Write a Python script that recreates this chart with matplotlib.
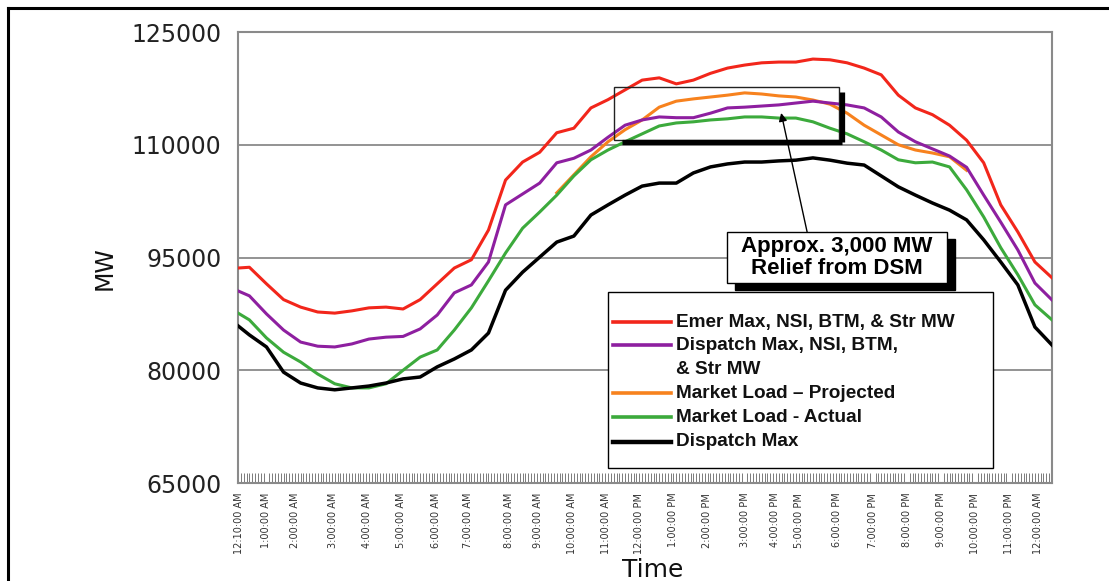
import numpy as np
import matplotlib.pyplot as plt
from matplotlib.lines import Line2D
from matplotlib.patches import Rectangle

# readings every half hour, x = hours after midnight
hours = [0.17, 0.5, 1.0, 1.5, 2.0, 2.5, 3.0, 3.5, 4.0, 4.5, 5.0, 5.5, 6.0, 6.5, 7.0, 7.5,
         8.0, 8.5, 9.0, 9.5, 10.0, 10.5, 11.0, 11.5, 12.0, 12.5, 13.0, 13.5, 14.0, 14.5,
         15.0, 15.5, 16.0, 16.5, 17.0, 17.5, 18.0, 18.5, 19.0, 19.5, 20.0, 20.5, 21.0,
         21.5, 22.0, 22.5, 23.0, 23.5, 24.0]

emer_max = [93600, 93700, 91500, 89400, 88400, 87750, 87600, 87900, 88300, 88400, 88150, 89400,
            91500, 93600, 94700, 98650, 105300, 107700, 109000, 111600, 112200, 114900, 116000,
            117300, 118600, 118900, 118100, 118600, 119500, 120200, 120600, 120900, 121000,
            121000, 121400, 121300, 120900, 120200, 119300, 116600, 114900, 114000, 112600,
            110600, 107600, 102000, 98400, 94400, 92300]
disp_nsi = [90550, 89900, 87500, 85350, 83750, 83200, 83100, 83500, 84150, 84400, 84500, 85500,
            87350, 90300, 91350, 94400, 102000, 103450, 104900, 107600, 108200, 109300, 111000,
            112600, 113300, 113700, 113600, 113600, 114200, 114900, 115000, 115150, 115300,
            115550, 115800, 115550, 115300, 114900, 113700, 111700, 110400, 109450, 108500,
            107000, 103300, 99700, 96000, 91600, 89350]
load_actual = [87600, 86700, 84300, 82400, 81100, 79500, 78200, 77650, 77650, 78200, 80000, 81750,
               82700, 85350, 88300, 91900, 95600, 98900, 101050, 103300, 105850, 108000, 109300,
               110400, 111450, 112500, 112900, 113050, 113300, 113450, 113700, 113700, 113550,
               113550, 113050, 112200, 111450, 110400, 109300, 108000, 107600, 107700, 107050,
               104000, 100400, 96300, 92700, 88700, 86700]
disp_max = [85900, 84700, 83100, 79750, 78300, 77650, 77400, 77650, 77900, 78300, 78850, 79100,
            80450, 81500, 82700, 84950, 90650, 93050, 95050, 97050, 97850, 100650, 102000,
            103300, 104500, 104900, 104900, 106250, 107050, 107450, 107700, 107700, 107850,
            107950, 108250, 107950, 107550, 107300, 105850, 104400, 103300, 102250, 101300,
            100000, 97350, 94400, 91350, 85750, 83350]

# projected load only separates from actual load during the day
proj_hours = [9.5, 10.0, 10.5, 11.0, 11.5, 12.0, 12.5, 13.0, 13.5, 14.0, 14.5, 15.0, 15.5,
              16.0, 16.5, 17.0, 17.5, 18.0, 18.5, 19.0, 19.5, 20.0, 20.5, 21.0, 21.5]
load_proj = [103600, 106000, 108400, 110400, 112000, 113300, 115000, 115800, 116100, 116350,
             116600, 116900, 116750, 116500, 116350, 115950, 115400, 114200, 112600, 111300,
             110000, 109300, 108900, 108400, 106600]

time_labels = ['12:10:00 AM', '1:00:00 AM', '2:00:00 AM', '3:00:00 AM', '4:00:00 AM',
               '5:00:00 AM', '6:00:00 AM', '7:00:00 AM', '8:00:00 AM', '9:00:00 AM',
               '10:00:00 AM', '11:00:00 AM', '12:00:00 PM', '1:00:00 PM', '2:00:00 PM',
               '3:00:00 PM', '4:00:00 PM', '5:00:00 PM', '6:00:00 PM', '7:00:00 PM',
               '8:00:00 PM', '9:00:00 PM', '10:00:00 PM', '11:00:00 PM', '12:00:00 AM']
label_pos = [0.2, 1.0, 1.85, 2.95, 3.95, 4.95, 5.95, 6.9, 8.1, 8.95, 9.95, 10.95, 11.9, 12.9,
             13.9, 15.0, 15.9, 16.6, 17.7, 18.75, 19.75, 20.75, 21.75, 22.75, 23.6]
y_ticks = [65000, 80000, 95000, 110000, 125000]

legend_labels = ['Emer Max, NSI, BTM, & Str MW', 'Dispatch Max, NSI, BTM,\n& Str MW',
                 'Market Load \u2013 Projected', 'Market Load - Actual', 'Dispatch Max']

RED = '#f2261b'
PURPLE = '#8e1fa0'
ORANGE = '#f7821e'
GREEN = '#3caa3c'
BLACK = '#000000'
legend_colors = [RED, PURPLE, ORANGE, GREEN, BLACK]

W, H = 1109, 581
def fx(x):
    return x / W
def fy(y):
    return 1 - y / H

fig = plt.figure(figsize=(W / 100, H / 100), dpi=100)
ax = fig.add_axes([fx(238), fy(483), fx(1052) - fx(238), (483 - 32) / H])

ax.plot(proj_hours, load_proj, color=ORANGE, lw=2.2, zorder=2)
ax.plot(hours, load_actual, color=GREEN, lw=2.2, zorder=3)
ax.plot(hours, disp_nsi, color=PURPLE, lw=2.2, zorder=4)
ax.plot(hours, emer_max, color=RED, lw=2.2, zorder=4)
ax.plot(hours, disp_max, color=BLACK, lw=2.5, zorder=4)

ax.set_xlim(0.167, 24.0)
ax.set_ylim(65000, 125000)
ax.set_yticks(y_ticks)
ax.set_yticklabels([str(v) for v in y_ticks], fontsize=17, color='#222222')
ax.tick_params(axis='y', length=0, pad=12)
ax.yaxis.grid(True, color='#8a8a8a', lw=1.3)
ax.set_axisbelow(True)

ax.set_xticks(label_pos)
ax.set_xticklabels(time_labels, rotation=90, fontsize=7.0, color='#333333')
ax.tick_params(axis='x', which='major', length=0, pad=7)
ax.set_xticks(np.arange(0.1667, 24.01, 1 / 12), minor=True)
ax.tick_params(axis='x', which='minor', direction='in', length=7, width=0.6, color='#666666')
for s in ax.spines.values():
    s.set_color('#8a8a8a')
    s.set_linewidth(1.5)

# box around the peak with heavy shadow on right and bottom
ax.add_patch(Rectangle((11.19, 110640), 17.77 - 11.19, 117700 - 110640, fill=False,
                       ec='#222222', lw=1, zorder=6))
ax.plot([11.4, 17.84], [110300, 110300], color='black', lw=3.8, solid_capstyle='butt', zorder=6)
ax.plot([17.84, 17.84], [117000, 110300], color='black', lw=3.8, solid_capstyle='butt', zorder=6)

# callout
ax.add_patch(Rectangle((14.72, 90690), 6.43, 6780, fc='black', ec='black', lw=1, zorder=7))
ax.add_patch(Rectangle((14.49, 91620), 6.43, 6780, fc='white', ec='black', lw=1, zorder=8))
ax.text(17.71, 95000, 'Approx. 3,000 MW\nRelief from DSM', ha='center', va='center',
        fontsize=16, fontweight='bold', family='Liberation Sans', linespacing=1.05, zorder=9)
ax.annotate('', xy=(16.07, 114230), xytext=(16.83, 98400),
            arrowprops=dict(arrowstyle='-|>', color='black', lw=1, mutation_scale=12,
                            shrinkA=0, shrinkB=0), zorder=9)

# legend drawn by hand so the box matches the original
fig.add_artist(Rectangle((fx(608), fy(468)), fx(993) - fx(608), (468 - 292) / H,
                         transform=fig.transFigure, fc='white', ec='black', lw=1, zorder=10))
row_y = [322, 345, 393, 417, 442]
for lab, col, y in zip(legend_labels, legend_colors, row_y):
    fig.add_artist(Line2D([fx(613), fx(671)], [fy(y), fy(y)], color=col,
                          lw=3.2 if col == BLACK else 2.6, transform=fig.transFigure, zorder=11))
    for i, line in enumerate(lab.split('\n')):
        fig.text(fx(676), fy(y + 24 * i), line, ha='left', va='center', fontsize=13.7,
                 fontweight='bold', family='Liberation Sans', color='#111111', zorder=11)

fig.text(fx(653), fy(570), 'Time', ha='center', va='center', fontsize=18, color='#111111')
fig.text(fx(105), fy(268), 'MW', ha='center', va='center', rotation=90, fontsize=17,
         color='#111111')

# page frame
fig.add_artist(Line2D([fx(8), fx(8)], [fy(8), 0], color='black', lw=2.2))
fig.add_artist(Line2D([fx(8), 1], [fy(8), fy(8)], color='black', lw=2.2))

fig.savefig('out.png', dpi=100)
